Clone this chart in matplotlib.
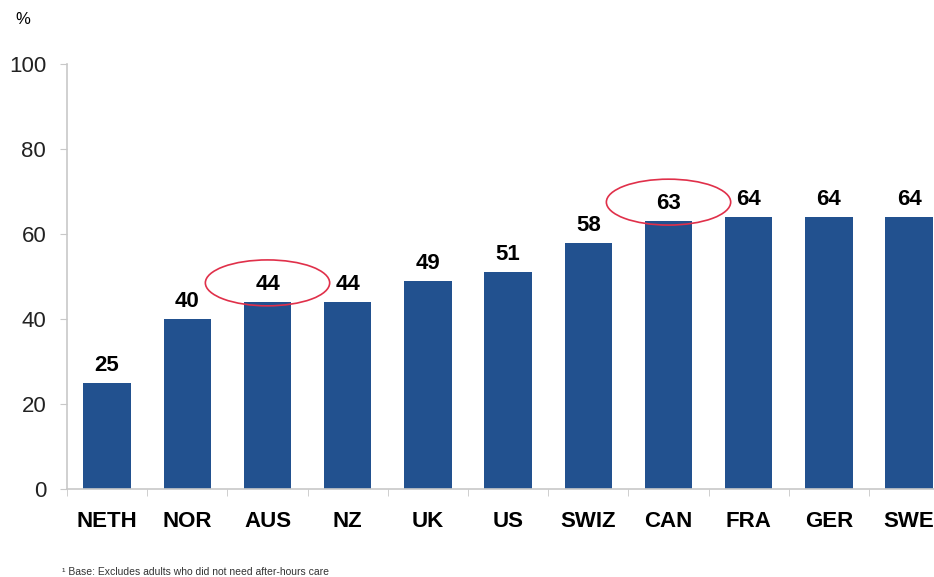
import matplotlib.pyplot as plt
from matplotlib.patches import Ellipse

plt.rcParams['font.family'] = ['Liberation Sans', 'DejaVu Sans']

# data
countries = ['NETH', 'NOR', 'AUS', 'NZ', 'UK', 'US', 'SWIZ', 'CAN', 'FRA', 'GER', 'SWE']
values = [25, 40, 44, 44, 49, 51, 58, 63, 64, 64, 64]
circled = ['AUS', 'CAN']
yticks = [0, 20, 40, 60, 80, 100]

BAR_COLOR = '#22518f'
AXIS_COLOR = '#c8c8c8'

fig = plt.figure(figsize=(9.34, 5.77), dpi=100)
ax = fig.add_axes([67/934, 1 - 489/577, 1 - 67/934, (489 - 64)/577])

x = range(len(countries))
ax.bar(x, values, width=0.59, color=BAR_COLOR)

for i, v in enumerate(values):
    ax.annotate(str(v), (i, v), xytext=(0, 5), textcoords='offset points',
                ha='center', va='bottom', fontsize=16, fontweight='bold',
                color='black')

# red ellipses around highlighted labels
for name in circled:
    i = countries.index(name)
    ax.add_patch(Ellipse((i, values[i] + 4.5), 1.55, 10.8, fill=False,
                         edgecolor='#e0304a', lw=1.2, clip_on=False))

ax.set_yticks(yticks)
ax.set_yticklabels([str(t) for t in yticks], fontsize=16, color='#222222')
ax.set_xticks(list(x))
ax.set_xticklabels(countries, fontsize=16, fontweight='bold')
ax.set_xticks([i - 0.5 for i in range(len(countries) + 1)], minor=True)
ax.set_xlim(-0.5, 10.31)
ax.set_ylim(0, 100)
ax.tick_params(axis='x', which='major', length=0, pad=16)
ax.tick_params(axis='x', which='minor', length=5, color=AXIS_COLOR, direction='out')
ax.tick_params(axis='y', length=5, color=AXIS_COLOR, pad=10)

for side in ['top', 'right']:
    ax.spines[side].set_visible(False)
for side in ['left', 'bottom']:
    ax.spines[side].set_color(AXIS_COLOR)
    ax.spines[side].set_linewidth(1.2)

fig.text(23/934, 1 - 20/577, '%', fontsize=12, ha='center', va='center')
fig.text(62/934, 1 - 572/577, '¹ Base: Excludes adults who did not need after-hours care',
         fontsize=7.5, color='#333333', ha='left', va='center')

fig.savefig('out.png', dpi=100)
